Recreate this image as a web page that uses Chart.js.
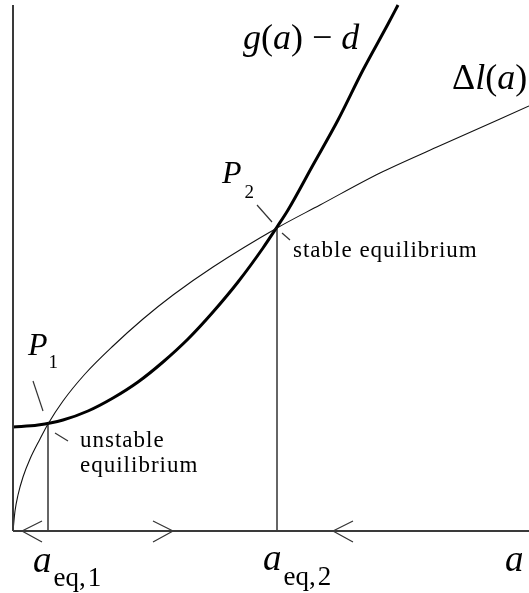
<!DOCTYPE html>
<html>
<head>
<meta charset="utf-8">
<script src="https://cdn.jsdelivr.net/npm/chart.js@4"></script>
<style>
html,body{margin:0;padding:0;background:#fff;}
#wrap{width:529px;height:593px;position:relative;}
</style>
</head>
<body>
<div id="wrap"><canvas id="c"></canvas></div>
<script>
// g(a) - d curve (thick)
const gA = [0, 25, 50, 75, 100, 125, 150, 175, 200, 225, 250, 264, 275, 300, 325, 350, 375, 385];
const gV = [104, 106, 111, 120, 133, 149, 169, 192, 219, 249, 283, 304, 321, 366, 411, 461, 507, 526];
// Δl(a) curve (thin)
const lA = [0, 2, 5, 10, 17, 27, 35, 50, 72, 100, 130, 160, 200, 264, 307, 367, 424, 516];
const lV = [0, 20, 36, 54, 72, 92, 107, 130, 157, 185, 212, 236, 264, 303, 326, 358, 384, 425];
// equilibrium points
const eqA = [35, 264];
const eqV = [107, 303];
// arrows on the a-axis: tip position and direction
const arrowA = [9, 160, 320];
const arrowDir = [-1, 1, -1];
// axis extents
const axisMaxA = 516;
const axisMaxV = 526;

const pts = (xs, ys) => xs.map((x, i) => ({x: x, y: ys[i]}));
const datasets = [];
// axes
datasets.push({data: [{x:0,y:0},{x:0,y:axisMaxV}], borderColor:'#3a3a3a', borderWidth:2});
datasets.push({data: [{x:0,y:0},{x:axisMaxA,y:0}], borderColor:'#3a3a3a', borderWidth:2});
// curves
datasets.push({data: pts(lA, lV), borderColor:'#111', borderWidth:1.1, cubicInterpolationMode:'monotone'});
datasets.push({data: pts(gA, gV), borderColor:'#000', borderWidth:3, cubicInterpolationMode:'monotone'});
// vertical lines at equilibria
eqA.forEach((a, i) => {
  datasets.push({data: [{x:a,y:0},{x:a,y:eqV[i]}], borderColor:'#333', borderWidth:1.5});
});
// arrows
arrowA.forEach((a, i) => {
  const d = arrowDir[i];
  datasets.push({data: [{x:a - d*20,y:10},{x:a,y:0},{x:a - d*20,y:-11}], borderColor:'#333', borderWidth:1.2});
});
// leader dashes at P1 / P2 (offsets from the point)
const dashUp = [[-15, 43, -5, 13], [-20, 23, -5, 6]];
const dashDown = [[7, -9, 20, -17], [5, -5, 13, -12]];
eqA.forEach((a, i) => {
  const v = eqV[i];
  [dashUp[i], dashDown[i]].forEach(o => {
    datasets.push({data: [{x:a+o[0],y:v+o[1]},{x:a+o[2],y:v+o[3]}], borderColor:'#333', borderWidth:1.2});
  });
});
datasets.forEach(d => { d.showLine = true; d.pointRadius = 0; d.fill = false; d.clip = false; });

function runs(ctx, x, y, items) {
  let cx = x;
  items.forEach(it => {
    ctx.font = (it.it ? 'italic ' : '') + it.s + 'px "Liberation Serif", "DejaVu Serif", serif';
    ctx.fillText(it.t, cx, y + (it.dy || 0));
    cx += ctx.measureText(it.t).width + (it.k || 0);
  });
}

const labels = {
  id: 'labels',
  afterDatasetsDraw(chart) {
    const ctx = chart.ctx;
    ctx.save();
    ctx.fillStyle = '#000';
    ctx.textBaseline = 'alphabetic';
    ctx.textAlign = 'left';
    runs(ctx, 243, 49, [{t:'g',it:1,s:36},{t:'(',s:36},{t:'a',it:1,s:36},{t:')',s:36},{t:' − ',s:36},{t:'d',it:1,s:36}]);
    runs(ctx, 452, 89, [{t:'Δ',s:36},{t:'l',it:1,s:36},{t:'(',s:36},{t:'a',it:1,s:36},{t:')',s:36}]);
    runs(ctx, 222, 183, [{t:'P',it:1,s:32,k:3},{t:'2',s:19,dy:15}]);
    runs(ctx, 28, 355, [{t:'P',it:1,s:32,k:1},{t:'1',s:19,dy:13}]);
    ctx.font = '23px "Liberation Serif", serif';
    ctx.letterSpacing = '1px';
    ctx.fillText('stable equilibrium', 293, 257);
    ctx.fillText('unstable', 80, 447);
    ctx.fillText('equilibrium', 80, 472);
    ctx.letterSpacing = '0px';
    runs(ctx, 33, 572, [{t:'a',it:1,s:37,k:2},{t:'eq',s:27,dy:14},{t:',',s:27,dy:14,k:2},{t:'1',s:27,dy:14}]);
    runs(ctx, 263, 570, [{t:'a',it:1,s:37,k:2},{t:'eq',s:27,dy:15},{t:',',s:27,dy:15,k:2},{t:'2',s:27,dy:15}]);
    runs(ctx, 505, 571, [{t:'a',it:1,s:37}]);
    ctx.restore();
  }
};

new Chart(document.getElementById('c'), {
  type: 'scatter',
  data: { datasets: datasets },
  options: {
    responsive: true,
    maintainAspectRatio: false,
    animation: false,
    layout: { padding: { left: 13, right: 0, top: 0, bottom: 62 } },
    plugins: { legend: { display: false }, tooltip: { enabled: false } },
    scales: {
      x: { type: 'linear', display: false, min: 0, max: axisMaxA },
      y: { type: 'linear', display: false, min: 0, max: 531 }
    }
  },
  plugins: [labels]
});
</script>
</body>
</html>
